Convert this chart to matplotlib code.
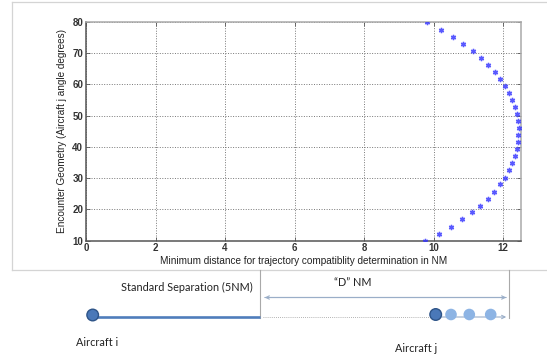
import matplotlib
matplotlib.use("Agg")
import matplotlib.pyplot as plt
from matplotlib.patches import Circle, FancyArrowPatch

# Encounter angle (deg) and minimum distance for compatibility determination (NM)
angles = [10.0, 12.2, 14.5, 16.8, 19.1, 21.2, 23.4, 25.7, 28.0, 30.2, 32.5,
          34.8, 37.1, 39.2, 41.5, 43.7, 46.0, 48.2, 50.5, 52.9, 55.0, 57.3,
          59.5, 61.8, 64.0, 66.3, 68.5, 70.8, 73.0, 75.3, 77.4, 80.0]
distances = [9.76, 10.15, 10.51, 10.82, 11.09, 11.33, 11.55, 11.73, 11.90,
             12.04, 12.15, 12.25, 12.33, 12.39, 12.42, 12.43, 12.44, 12.42,
             12.39, 12.33, 12.26, 12.15, 12.04, 11.90, 11.75, 11.57, 11.36,
             11.12, 10.85, 10.56, 10.20, 9.81]
x_ticks = [0, 2, 4, 6, 8, 10, 12]
y_ticks = [10, 20, 30, 40, 50, 60, 70, 80]

W, H = 547, 356
fig = plt.figure(figsize=(W / 100, H / 100), dpi=100)
fig.patch.set_facecolor("white")

# Overlay in pixel units for the frame and the separation sketch
ov = fig.add_axes([0, 0, 1, 1])
ov.set_xlim(0, W)
ov.set_ylim(H, 0)
ov.axis("off")

frame_c = "#d4d4d4"
ov.plot([12, 12], [2, 270], color=frame_c, lw=0.9)
ov.plot([12, W], [2, 2], color=frame_c, lw=0.9)
ov.plot([12, W], [270, 270], color=frame_c, lw=0.9)

# Main scatter axes
ax = fig.add_axes([86 / W, 1 - 240.7 / H, (520.7 - 86) / W, (240.7 - 22) / H])
ax.plot(distances, angles, linestyle="none", marker=(6, 2, 0), ms=3.8,
        mew=1.0, color="#3030ff", alpha=0.8, zorder=3)
ax.set_xlim(0, 12.5)
ax.set_ylim(10, 80)
ax.set_xticks(x_ticks)
ax.set_yticks(y_ticks)
ax.grid(True, linestyle=(0, (1.0, 1.6)), color="#777777", lw=0.7)
ax.tick_params(direction="in", length=3, width=0.6, colors="#555555",
               labelsize=7, labelcolor="#333333", top=True, right=True, pad=2)
for lab in ax.get_xticklabels() + ax.get_yticklabels():
    lab.set_fontweight("bold")
    lab.set_family("Liberation Sans")
for side in ["left", "bottom"]:
    ax.spines[side].set_color("#555555")
    ax.spines[side].set_linewidth(1.1)
for side in ["top", "right"]:
    ax.spines[side].set_color("#aaaaaa")
    ax.spines[side].set_linewidth(1.1)
ax.set_xlabel("Minimum distance for trajectory compatiblity determination in NM",
              family="Liberation Sans", fontsize=7.2, color="#222222", labelpad=2)
ax.set_ylabel("Encounter Geometry (Aircraft j angle degrees)",
              family="Liberation Sans", fontsize=7.2, color="#222222", labelpad=4)

# Separation sketch
txt = dict(family="Lato", fontsize=7.8, color="#222222", ha="center", va="center")
gray = "#a9a9a9"
arrow_c = "#9aaec8"

ov.plot([260, 260], [270, 318], color=gray, lw=0.8)
ov.plot([509, 509], [270, 318], color=gray, lw=0.8)

ov.text(187, 287, "Standard Separation (5NM)", **txt)
ov.text(353, 282, "\u201cD\u201d NM", **txt)
ov.text(97, 342, "Aircraft i", **txt)
ov.text(416, 348, "Aircraft j", **txt)

# "D" NM dimension arrow
ov.add_patch(FancyArrowPatch((509, 297.5), (262, 297.5), arrowstyle="->",
                             mutation_scale=6, color=arrow_c, lw=0.8))
ov.add_patch(FancyArrowPatch((262, 297.5), (509, 297.5), arrowstyle="->",
                             mutation_scale=6, color=arrow_c, lw=0.8))

# standard separation bar and dotted continuation
ov.plot([93, 260], [317, 317], color="#4f7dbb", lw=1.9, solid_capstyle="butt")
ov.plot([263, 430], [317, 317], color="#9a9a9a", lw=0.6, linestyle=(0, (1, 1.5)))
ov.add_patch(FancyArrowPatch((436, 317), (509, 317), arrowstyle="->",
                             mutation_scale=6, color=arrow_c, lw=0.8))

dark_fill, dark_edge = "#4a78b8", "#2e5488"
light_fill = "#8db4e4"
ov.add_patch(Circle((92.7, 315), 5.8, facecolor=dark_fill, edgecolor=dark_edge, lw=1.0, zorder=4))
for cx in [451, 469.3, 490.7]:
    ov.add_patch(Circle((cx, 314.5), 5.8, facecolor=light_fill, edgecolor="none", zorder=4))
ov.add_patch(Circle((435.7, 314.5), 5.8, facecolor=dark_fill, edgecolor=dark_edge, lw=1.0, zorder=5))

fig.savefig("out.png", dpi=100, facecolor="white")
